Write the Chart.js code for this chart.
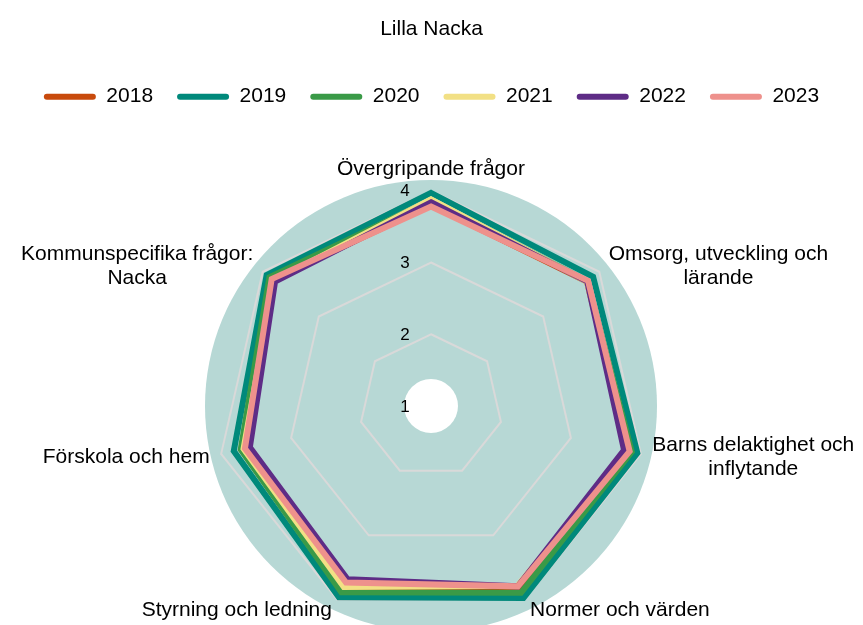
<!DOCTYPE html>
<html>
<head>
<meta charset="utf-8">
<script src="https://cdn.jsdelivr.net/npm/chart.js@4.4.0/dist/chart.umd.min.js"></script>
<style>
  html, body { margin: 0; padding: 0; background: #fff; overflow: hidden; }
</style>
</head>
<body>
<canvas id="mycanvas" width="863" height="633"></canvas>
<script>
// axis names, multi-line ones as arrays
var categories = [
	'Övergripande frågor',
	['Omsorg, utveckling och', 'lärande'],
	['Barns delaktighet och', 'inflytande'],
	'Normer och värden',
	'Styrning och ledning',
	'Förskola och hem',
	['Kommunspecifika frågor:', 'Nacka']
];
var years = ['2018', '2019', '2020', '2021', '2022', '2023'];
var colors = ['#C84A0C', '#00897B', '#3A9A47', '#F2E085', '#5E2C86', '#EE918C'];

var v2018 = [3.80, 3.78, 3.83, 3.81, 3.81, 3.68, 3.82];
var v2019 = [3.97, 3.89, 3.95, 3.97, 3.96, 3.82, 3.93];
var v2020 = [3.87, 3.79, 3.87, 3.89, 3.88, 3.72, 3.88];
var v2021 = [3.88, 3.78, 3.82, 3.78, 3.80, 3.68, 3.80];
var v2022 = [3.84, 3.785, 3.76, 3.79, 3.68, 3.59, 3.78];
var v2023 = [3.78, 3.80, 3.84, 3.79, 3.73, 3.66, 3.84];
var values = [v2018, v2019, v2020, v2021, v2022, v2023];

var tickLabels = [1, 2, 3, 4];

Chart.defaults.font.family = '"Liberation Sans", Arial, sans-serif';
Chart.defaults.color = '#000';

// round background with a white hole in the middle
var circleBackground = {
	id: 'circleBackground',
	beforeDraw: function(chart) {
		var s = chart.scales.r, ctx = chart.ctx;
		ctx.save();
		ctx.fillStyle = '#B7D8D5';
		ctx.beginPath();
		ctx.arc(s.xCenter, s.yCenter, s.drawingArea, 0, Math.PI * 2);
		ctx.fill();
		ctx.fillStyle = '#fff';
		ctx.beginPath();
		ctx.arc(s.xCenter, s.yCenter, 27, 0, Math.PI * 2);
		ctx.fill();
		ctx.restore();
	}
};

// tick numbers left of the axis, category names outside the circle
var axisText = {
	id: 'axisText',
	afterDatasetsDraw: function(chart) {
		var s = chart.scales.r, ctx = chart.ctx;
		ctx.save();
		ctx.fillStyle = '#000';
		ctx.textAlign = 'center';
		ctx.textBaseline = 'middle';
		ctx.font = '17px "Liberation Sans", Arial, sans-serif';
		s.ticks.forEach(function(t) {
			ctx.fillText(String(t.value), s.xCenter - 26, s.yCenter - s.getDistanceFromCenterForValue(t.value) + 1);
		});

		ctx.font = '21px "Liberation Sans", Arial, sans-serif';
		chart.data.labels.forEach(function(lab, i) {
			var lines = [].concat(lab);
			var p = s.getPointPosition(i, s.drawingArea);
			var w = Math.max.apply(null, lines.map(function(l) { return ctx.measureText(l).width; }));
			var left;
			if (Math.abs(p.x - s.xCenter) < 1) left = p.x - w / 2;
			else if (p.x > s.xCenter) left = p.x + 1;
			else left = p.x - 1 - w;
			var midY = (i === 0) ? p.y - 11 : p.y + 1;
			lines.forEach(function(line, j) {
				ctx.fillText(line, left + w / 2, midY + (j - (lines.length - 1) / 2) * 24);
			});
		});
		ctx.restore();
	}
};

// extra room under the legend
var legendGap = {
	id: 'legendGap',
	beforeInit: function(chart) {
		var fit = chart.legend.fit;
		chart.legend.fit = function() {
			fit.bind(chart.legend)();
			this.height += 63;
		};
	}
};

var datasets = [];
for (var i in years) {
	datasets.push({
		label: years[i],
		data: values[i],
		borderColor: colors[i],
		backgroundColor: colors[i],
		borderWidth: 6,
		pointRadius: 0,
		pointHoverRadius: 0,
		fill: false,
		tension: 0,
		order: years.length - 1 - i
	});
}

var ctx = document.getElementById('mycanvas');

var radarChart = new Chart(ctx, {
	type: 'radar',
	data: {
		labels: categories,
		datasets: datasets
	},
	options: {
		responsive: false,
		animation: false,
		layout: { padding: 0 },
		scales: {
			r: {
				min: 1,
				max: 4.15,
				ticks: { display: false, stepSize: 1 },
				afterBuildTicks: function(s) {
					s.ticks = tickLabels.map(function(v) { return { value: v }; });
				},
				grid: { color: '#D9D9D9', lineWidth: 2 },
				angleLines: { display: false },
				pointLabels: { display: false }
			}
		},
		plugins: {
			title: {
				display: true,
				text: 'Lilla Nacka',
				color: '#000',
				font: { size: 21, weight: 'normal' },
				padding: { top: 17, bottom: 20 }
			},
			legend: {
				position: 'top',
				labels: {
					boxWidth: 52,
					boxHeight: 6,
					padding: 24,
					color: '#000',
					font: { size: 21 },
					useBorderRadius: true,
					borderRadius: 3,
					generateLabels: function(chart) {
						return chart.data.datasets.map(function(ds, i) {
							return {
								text: ds.label,
								fillStyle: ds.borderColor,
								strokeStyle: ds.borderColor,
								lineWidth: 0,
								borderRadius: 3,
								fontColor: '#000',
								hidden: false,
								datasetIndex: i
							};
						});
					}
				}
			},
			tooltip: { enabled: false }
		}
	},
	plugins: [circleBackground, axisText, legendGap]
});
</script>
</body>
</html>
